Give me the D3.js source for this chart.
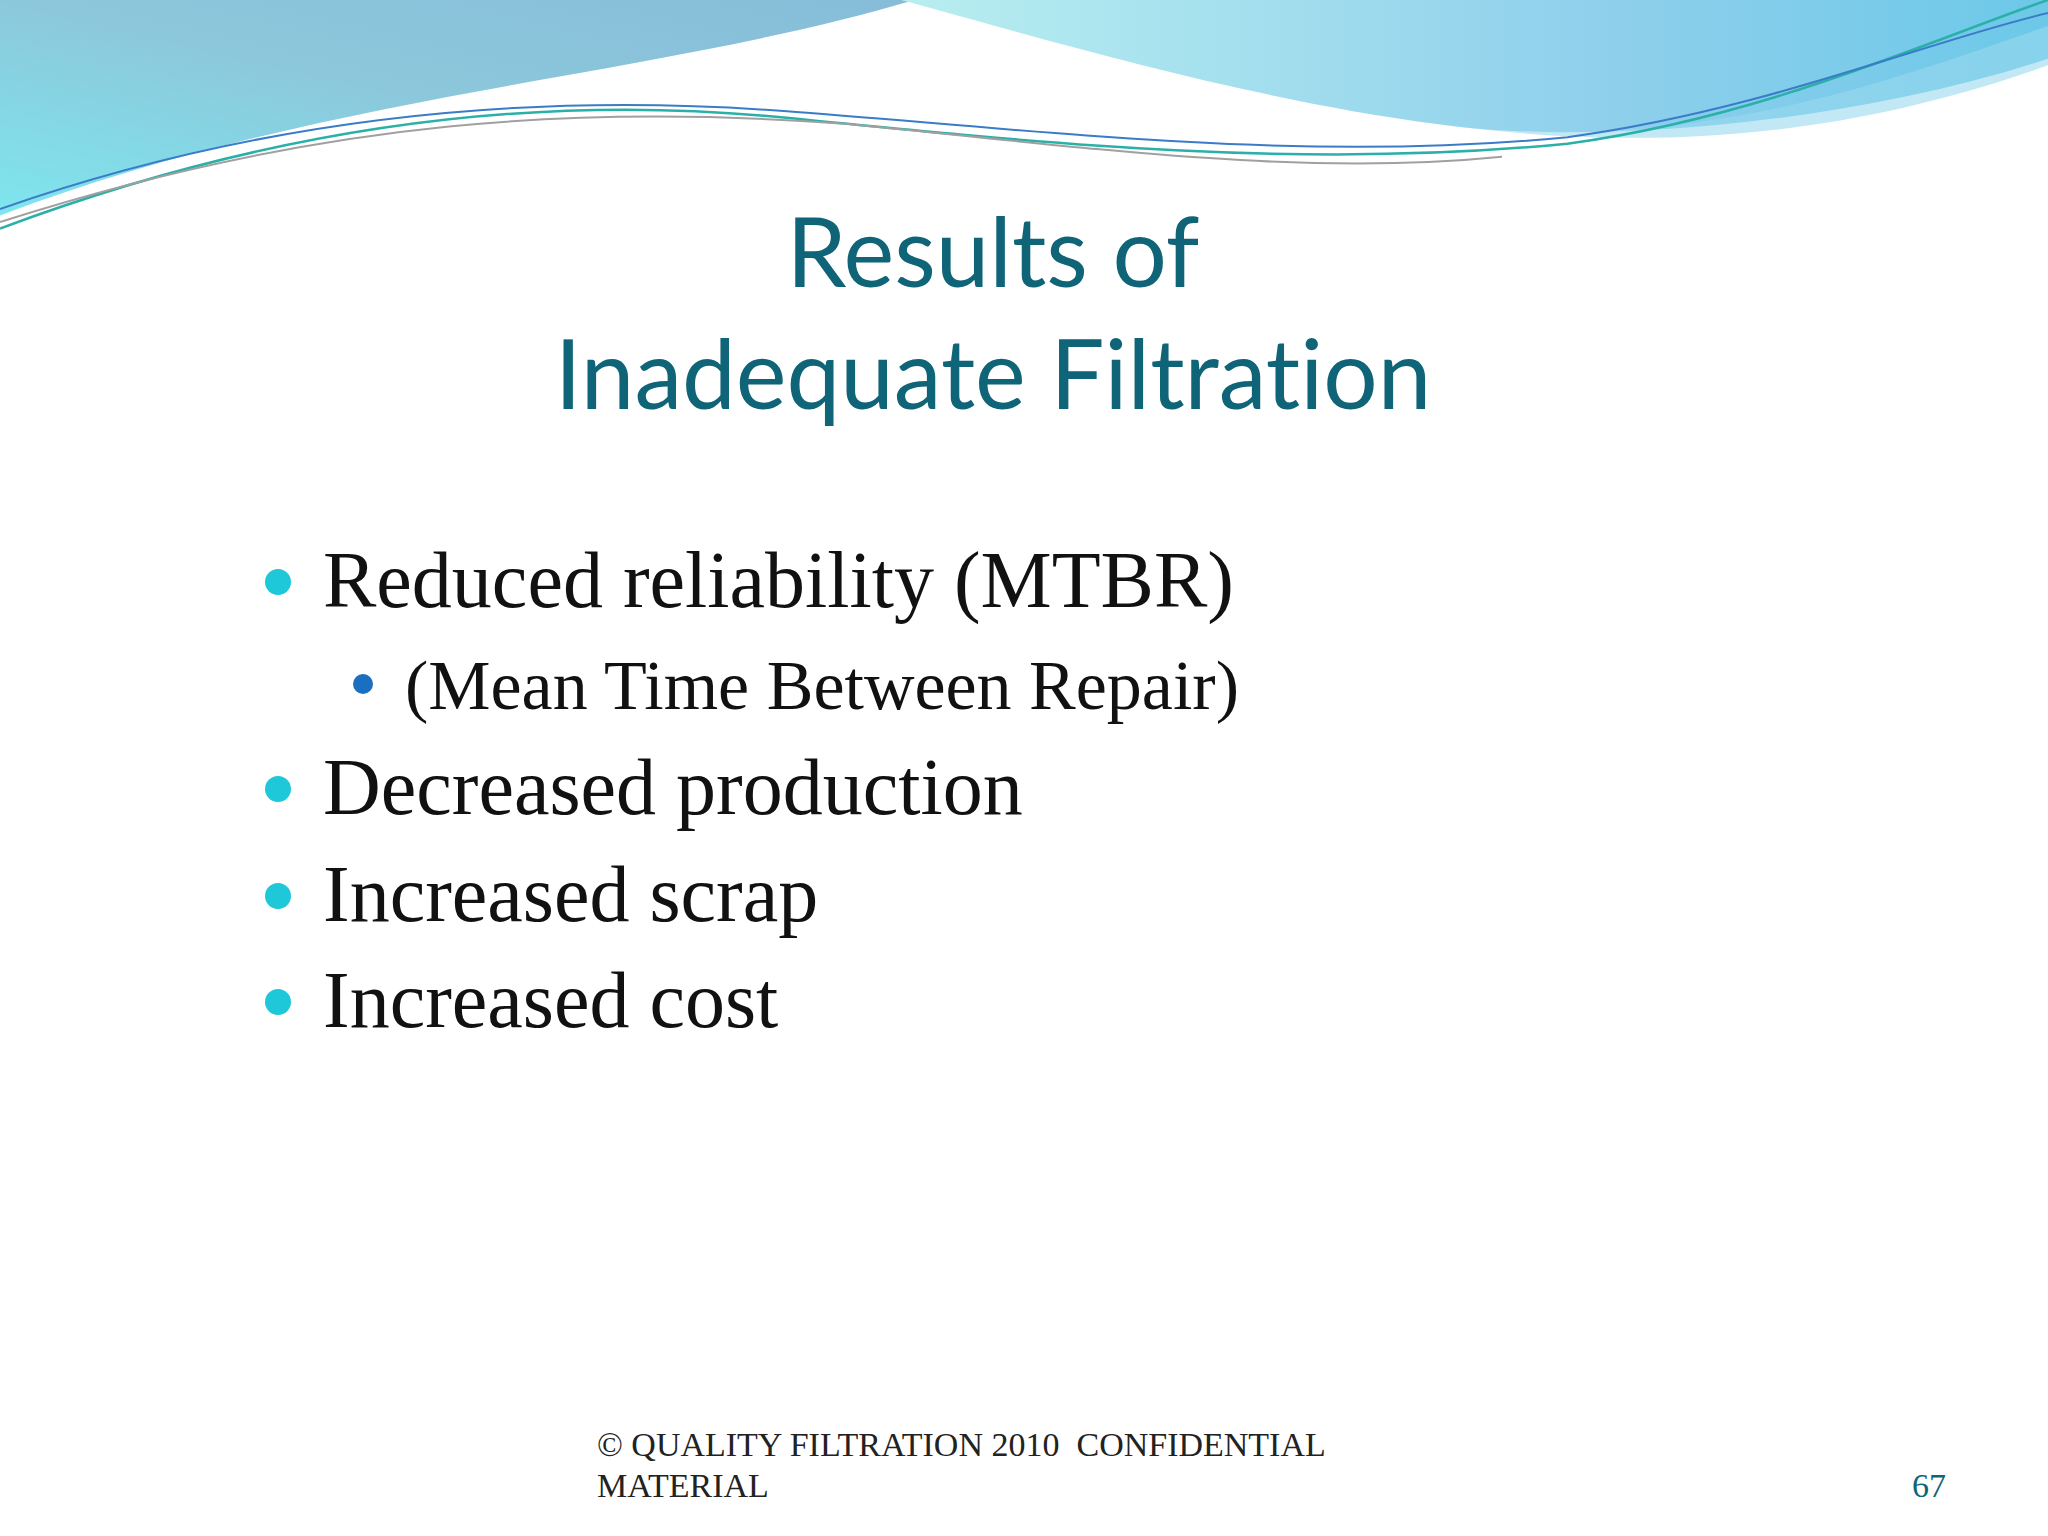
<!DOCTYPE html>
<html><head><meta charset="utf-8">
<script src="https://cdn.jsdelivr.net/npm/d3@7"></script>
<style>body{margin:0;background:#fff} text{white-space:pre;font-variant-ligatures:none}</style></head>
<body><svg id="s" width="2048" height="1536"></svg>
<script>
const titleLines = ["Results of", "Inadequate Filtration"];
const bullets = ["Reduced reliability (MTBR)", "(Mean Time Between Repair)", "Decreased production", "Increased scrap", "Increased cost"];
const levels = [0, 1, 0, 0, 0];
const footerLines = ["© QUALITY FILTRATION 2010  CONFIDENTIAL", "MATERIAL"];
const pageNumber = "67";

const svg = d3.select("#s");
const k = 2048/1568;
const defs = svg.append("defs");
const g1 = defs.append("linearGradient").attr("id","g1").attr("x1","0").attr("y1","1").attr("x2","1").attr("y2","0");
g1.append("stop").attr("offset","0").attr("stop-color","#7ee6ee");
g1.append("stop").attr("offset","0.5").attr("stop-color","#8cc8dc");
g1.append("stop").attr("offset","1").attr("stop-color","#86bcd8");
const g2 = defs.append("linearGradient").attr("id","g2").attr("x1","0").attr("y1","0").attr("x2","1").attr("y2","0");
g2.append("stop").attr("offset","0").attr("stop-color","#b8eef0");
g2.append("stop").attr("offset","0.6").attr("stop-color","#90d0ec");
g2.append("stop").attr("offset","1").attr("stop-color","#6cc8e8");
svg.append("path").attr("fill","url(#g1)")
 .attr("d", `M0,0 L${700*k},0 C${500*k},${60*k} ${250*k},${70*k} ${0},${165*k} Z`);
svg.append("path").attr("fill","url(#g2)")
 .attr("d", `M${690*k},0 L${1568*k},0 L${1568*k},${45*k} C${1400*k},${100*k} ${1200*k},${110*k} ${1100*k},${95*k} C${950*k},${75*k} ${800*k},${30*k} ${690*k},0 Z`);
svg.append("path").attr("fill","#9ad8ee").attr("opacity",0.6)
 .attr("d", `M${1100*k},${95*k} C${1300*k},${120*k} ${1450*k},${60*k} ${1568*k},${20*k} L${1568*k},${50*k} C${1400*k},${110*k} ${1250*k},${115*k} ${1100*k},${95*k} Z`);
const line = (d,c,w)=>svg.append("path").attr("d",d).attr("fill","none").attr("stroke",c).attr("stroke-width",w);
line(`M0,${175*k} C${200*k},${100*k} ${400*k},${70*k} ${600*k},${90*k} C${800*k},${110*k} ${1000*k},${130*k} ${1200*k},${110*k} C${1350*k},${90*k} ${1480*k},${30*k} ${1568*k},0`,"#2ab0a8",2.5);
line(`M0,${160*k} C${200*k},${90*k} ${400*k},${70*k} ${600*k},${85*k} C${800*k},${100*k} ${1000*k},${125*k} ${1200*k},${105*k} C${1350*k},${85*k} ${1480*k},${30*k} ${1568*k},${10*k}`,"#3a7cc8",2);
line(`M0,${170*k} C${250*k},${90*k} ${450*k},${80*k} ${650*k},${95*k} C${850*k},${115*k} ${1000*k},${135*k} ${1150*k},${120*k}`,"#a0a0a0",2);

svg.selectAll("text.t").data(titleLines).join("text")
 .attr("x",993).attr("y",(d,i)=>287+i*122).attr("text-anchor","middle")
 .attr("font-family","Lato, 'Open Sans', sans-serif").attr("font-size",96).attr("fill","#0f6478").text(d=>d);

const ys = [607, 709, 814, 921, 1027];
bullets.forEach((b,i)=>{
  const lv = levels[i];
  svg.append("circle").attr("cx", lv?363:278).attr("cy", ys[i]-25).attr("r", lv?10:13)
    .attr("fill", lv?"#1a6fc0":"#1ec8d8");
  svg.append("text").attr("x", lv?405:323).attr("y", ys[i])
    .attr("font-family","'Liberation Serif', serif").attr("font-size", lv?70:80)
    .attr("fill","#111").text(b);
});
svg.selectAll("text.f").data(footerLines).join("text")
 .attr("x",597).attr("y",(d,i)=>1456+i*41)
 .attr("font-family","'Liberation Serif', serif").attr("font-size",34).attr("fill","#222").text(d=>d);
svg.append("text").attr("x",1946).attr("y",1497).attr("text-anchor","end")
 .attr("font-family","'Liberation Serif', serif").attr("font-size",34).attr("fill","#0f6478").text(pageNumber);
</script></body></html>
